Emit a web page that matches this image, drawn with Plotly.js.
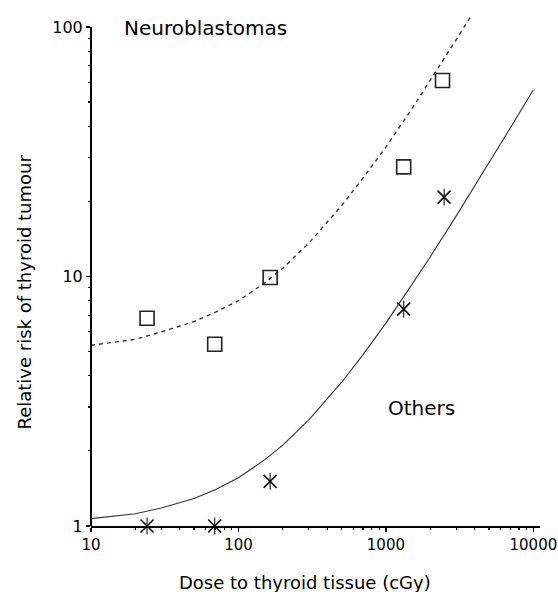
<!DOCTYPE html>
<html>
<head>
<meta charset="utf-8">
<script src="https://cdn.plot.ly/plotly-3.0.1.min.js"></script>
<style>html,body{margin:0;padding:0;background:#fff;}#chart{width:558px;height:592px;}</style>
</head>
<body>
<div id="chart"></div>
<script>
// Observed relative risks
const neuroDose = [24, 69, 164, 1320, 2420];
const neuroRR   = [6.8, 5.35, 9.9, 27.5, 61];
const otherDose = [24, 69, 164, 1320, 2480];
const otherRR   = [1.0, 1.0, 1.51, 7.4, 20.8];

// Fitted curves
const neuroFitDose = [10, 20, 30, 50, 70, 100, 150, 200, 300, 500, 700, 1000, 1500, 2000, 2500, 3000, 3500, 3800];
const neuroFitRR   = [5.3, 5.6, 6.0, 6.6, 7.2, 8.0, 9.4, 10.8, 13.6, 19.2, 24.8, 33, 47, 61, 75, 89, 103, 111];
const otherFitDose = [10, 20, 30, 50, 70, 100, 150, 200, 300, 500, 700, 1000, 1500, 2000, 3000, 5000, 7000, 10000];
const otherFitRR   = [1.07, 1.12, 1.18, 1.29, 1.40, 1.56, 1.84, 2.11, 2.66, 3.76, 4.86, 6.5, 9.3, 12, 17.5, 28.5, 39.5, 56];

const xMajor = [10, 100, 1000, 10000];
const xMajorText = ['10', '100', '1000', '10000'];
const yMajor = [1, 10, 100];
const yMajorText = ['1', '10', '100'];

function minorVals(lo, hi) {
  const out = [];
  for (let d = lo; d < hi; d *= 10) for (let k = 2; k <= 9; k++) out.push(d * k);
  return out;
}

const FONT = 'DejaVu Sans, Liberation Sans, Arial, sans-serif';
const INK = '#000';

const traces = [
  {x: neuroFitDose, y: neuroFitRR, mode: 'lines', line: {color: '#333', width: 1.4, dash: '4px,4px'}, hoverinfo: 'skip'},
  {x: otherFitDose, y: otherFitRR, mode: 'lines', line: {color: '#333', width: 1.1}, hoverinfo: 'skip'},
  {x: neuroDose, y: neuroRR, mode: 'markers', cliponaxis: false,
   marker: {symbol: 'square-open', size: 14, color: '#222', line: {width: 1.6, color: '#222'}}},
  {x: otherDose, y: otherRR, mode: 'markers', cliponaxis: false,
   marker: {symbol: 'x-thin-open', size: 13, color: '#111', line: {width: 1.6, color: '#111'}}},
  {x: otherDose, y: otherRR, mode: 'markers', cliponaxis: false,
   marker: {symbol: 'line-ns-open', size: 12, color: '#111', line: {width: 1.1, color: '#111'}}}
];

const layout = {
  width: 558, height: 592,
  margin: {l: 91, r: 18, t: 5, b: 66},
  showlegend: false,
  paper_bgcolor: '#fff', plot_bgcolor: '#fff',
  font: {family: FONT, color: INK, size: 15},
  xaxis: {
    type: 'log', range: [1, 4.045],
    tickmode: 'array', tickvals: xMajor, ticktext: xMajorText,
    ticks: 'outside', ticklen: 4, tickwidth: 1.2, tickcolor: INK,
    minor: {tickmode: 'array', tickvals: minorVals(10, 10000), ticks: 'outside', ticklen: 2, tickwidth: 1.2, tickcolor: INK},
    showline: true, linecolor: INK, linewidth: 2,
    showgrid: false, zeroline: false, ticklabeloverflow: 'allow',
    tickfont: {family: FONT, size: 15, color: INK}
  },
  yaxis: {
    type: 'log', range: [0, 2.088],
    tickmode: 'array', tickvals: yMajor, ticktext: yMajorText,
    ticks: 'outside', ticklen: 4, tickwidth: 1.2, tickcolor: INK,
    minor: {tickmode: 'array', tickvals: minorVals(1, 100), ticks: 'outside', ticklen: 2, tickwidth: 1.2, tickcolor: INK},
    showline: false, showgrid: false, zeroline: false, ticklabeloverflow: 'allow',
    tickfont: {family: FONT, size: 16, color: INK}
  },
  shapes: [
    {type: 'line', xref: 'paper', yref: 'y', x0: 0, x1: 0, y0: 1, y1: 100, line: {color: INK, width: 2}}
  ],
  annotations: [
    {text: 'Neuroblastomas', xref: 'paper', yref: 'paper', x: 0.256, y: 0.956, showarrow: false,
     xanchor: 'center', yanchor: 'middle', font: {family: FONT, size: 20, color: INK}},
    {text: 'Others', xref: 'paper', yref: 'paper', x: 0.737, y: 0.2265, showarrow: false,
     xanchor: 'center', yanchor: 'middle', font: {family: FONT, size: 20, color: INK}},
    {text: 'Dose to thyroid tissue (cGy)', xref: 'paper', yref: 'paper', x: 0.477, y: -0.1075, showarrow: false,
     xanchor: 'center', yanchor: 'middle', font: {family: FONT, size: 18, color: INK}},
    {text: 'Relative risk of thyroid tumour', xref: 'paper', yref: 'paper', x: -0.147, y: 0.45, showarrow: false,
     textangle: -90, xanchor: 'center', yanchor: 'middle', font: {family: FONT, size: 18, color: INK}}
  ]
};

Plotly.newPlot('chart', traces, layout, {displayModeBar: false, staticPlot: true});
</script>
</body>
</html>
